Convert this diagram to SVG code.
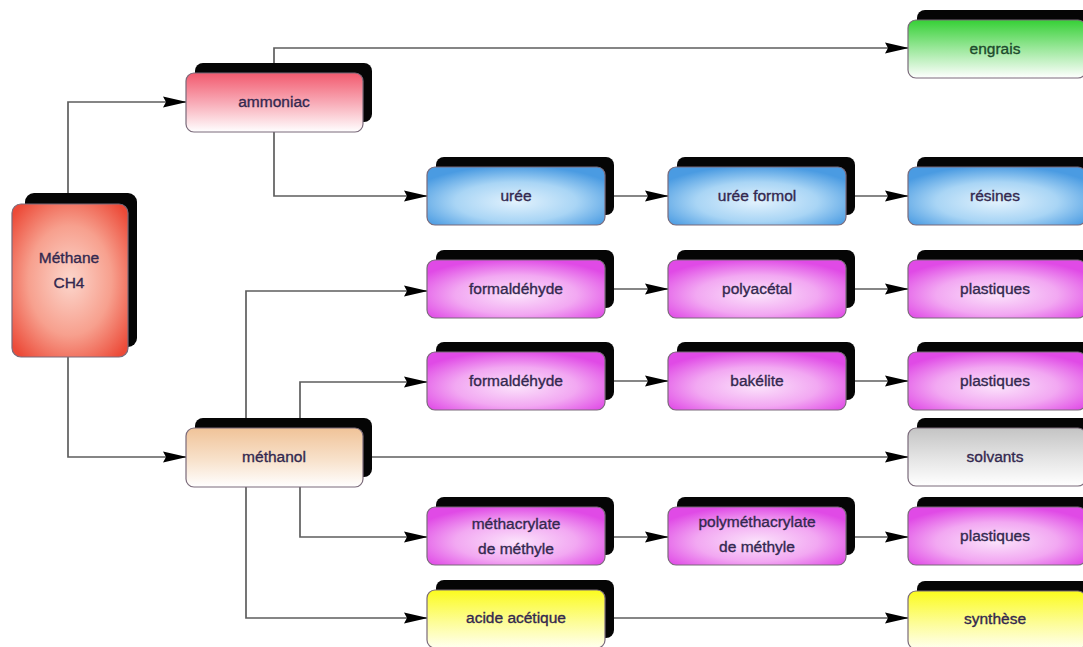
<svg xmlns="http://www.w3.org/2000/svg" width="1083" height="647" viewBox="0 0 1083 647">
<defs>
<style>
.sh{fill:#050505}
.fr{stroke:#7a6a7a;stroke-width:1.2}
.t{font-family:"Liberation Sans",Arial,sans-serif;font-size:15.5px;fill:#33284f;stroke:#33284f;stroke-width:0.35;text-anchor:middle}
.c{fill:none;stroke:#5e5e5e;stroke-width:1.7}
</style>
<marker id="ar" markerUnits="userSpaceOnUse" markerWidth="24" markerHeight="12" refX="23" refY="6" orient="auto">
<path d="M0,0.5 L24,6 L0,11.5 L3,6 z" fill="#000"/>
</marker>
<radialGradient id="gRed" cx="50%" cy="50%" r="65%">
<stop offset="0" stop-color="#fcd6cc"/><stop offset="0.55" stop-color="#f7a08e"/><stop offset="1" stop-color="#ec4a38"/>
</radialGradient>
<radialGradient id="gBlue" cx="50%" cy="60%" r="62%">
<stop offset="0" stop-color="#e2f2fd"/><stop offset="0.55" stop-color="#a9d5f5"/><stop offset="1" stop-color="#4a9be2"/>
</radialGradient>
<radialGradient id="gMag" cx="50%" cy="60%" r="62%">
<stop offset="0" stop-color="#fbe2fb"/><stop offset="0.55" stop-color="#f2a8f2"/><stop offset="1" stop-color="#e04ae6"/>
</radialGradient>
<linearGradient id="gPink" x1="0" y1="0" x2="0" y2="1">
<stop offset="0" stop-color="#f25a6e"/><stop offset="0.5" stop-color="#f8aab6"/><stop offset="1" stop-color="#ffffff"/>
</linearGradient>
<linearGradient id="gTan" x1="0" y1="0" x2="0" y2="1">
<stop offset="0" stop-color="#f0c398"/><stop offset="0.55" stop-color="#f8e2cc"/><stop offset="1" stop-color="#ffffff"/>
</linearGradient>
<linearGradient id="gGreen" x1="0" y1="0" x2="0" y2="1">
<stop offset="0" stop-color="#36d036"/><stop offset="0.5" stop-color="#9ce89c"/><stop offset="1" stop-color="#ffffff"/>
</linearGradient>
<linearGradient id="gGray" x1="0" y1="0" x2="0" y2="1">
<stop offset="0" stop-color="#c4c4c4"/><stop offset="0.55" stop-color="#e6e6e6"/><stop offset="1" stop-color="#ffffff"/>
</linearGradient>
<linearGradient id="gYel" x1="0" y1="0" x2="0" y2="1">
<stop offset="0" stop-color="#fbfb1e"/><stop offset="0.55" stop-color="#fdfd96"/><stop offset="1" stop-color="#ffffef"/>
</linearGradient>
</defs>
<rect width="1083" height="647" fill="#ffffff"/>

<g id="connectors">
<path class="c" d="M68,204 V102 H186" marker-end="url(#ar)"/>
<path class="c" d="M68,357 V457 H186" marker-end="url(#ar)"/>
<path class="c" d="M274,100 V48 H908" marker-end="url(#ar)"/>
<path class="c" d="M274,100 V196 H427" marker-end="url(#ar)"/>
<path class="c" d="M605,196 H668" marker-end="url(#ar)"/>
<path class="c" d="M846,196 H908" marker-end="url(#ar)"/>
<path class="c" d="M246,457 V291 H427" marker-end="url(#ar)"/>
<path class="c" d="M605,289 H668" marker-end="url(#ar)"/>
<path class="c" d="M846,289 H908" marker-end="url(#ar)"/>
<path class="c" d="M300,457 V382 H427" marker-end="url(#ar)"/>
<path class="c" d="M605,381 H668" marker-end="url(#ar)"/>
<path class="c" d="M846,381 H908" marker-end="url(#ar)"/>
<path class="c" d="M363,457 H908" marker-end="url(#ar)"/>
<path class="c" d="M300,457 V537 H427" marker-end="url(#ar)"/>
<path class="c" d="M605,537 H668" marker-end="url(#ar)"/>
<path class="c" d="M846,537 H908" marker-end="url(#ar)"/>
<path class="c" d="M246,457 V618 H427" marker-end="url(#ar)"/>
<path class="c" d="M605,618 H908" marker-end="url(#ar)"/>
</g>

<g id="methane">
<rect class="sh" x="25" y="193" width="112" height="154" rx="9" fill="#1a0000"/>
<rect class="fr" x="12" y="204" width="116" height="153" rx="9" fill="url(#gRed)" stroke="#8a2a20"/>
<text class="t" x="69" y="263">Méthane</text>
<text class="t" x="69" y="288">CH4</text>
</g>

<g id="ammoniac">
<rect class="sh" x="195" y="63" width="177" height="59" rx="8"/>
<rect class="fr" x="186" y="73" width="177" height="59" rx="8" fill="url(#gPink)"/>
<text class="t" x="274" y="107">ammoniac</text>
</g>

<g id="engrais">
<rect class="sh" x="917" y="10" width="178" height="58" rx="8"/>
<rect class="fr" x="908" y="20" width="178" height="58" rx="8" fill="url(#gGreen)" stroke="#a0c0a0"/>
<text class="t" x="995" y="54" style="fill:#1d4a2c;stroke:#1d4a2c">engrais</text>
</g>

<g id="uree">
<rect class="sh" x="436" y="157" width="178" height="58" rx="8"/>
<rect class="fr" x="427" y="167" width="178" height="58" rx="8" fill="url(#gBlue)"/>
<text class="t" x="516" y="201">urée</text>
</g>
<g id="uree-formol">
<rect class="sh" x="677" y="157" width="178" height="58" rx="8"/>
<rect class="fr" x="668" y="167" width="178" height="58" rx="8" fill="url(#gBlue)"/>
<text class="t" x="757" y="201">urée formol</text>
</g>
<g id="resines">
<rect class="sh" x="917" y="157" width="178" height="58" rx="8"/>
<rect class="fr" x="908" y="167" width="178" height="58" rx="8" fill="url(#gBlue)"/>
<text class="t" x="995" y="201">résines</text>
</g>

<g id="formaldehyde1">
<rect class="sh" x="436" y="250" width="178" height="58" rx="8"/>
<rect class="fr" x="427" y="260" width="178" height="58" rx="8" fill="url(#gMag)"/>
<text class="t" x="516" y="294">formaldéhyde</text>
</g>
<g id="polyacetal">
<rect class="sh" x="677" y="250" width="178" height="58" rx="8"/>
<rect class="fr" x="668" y="260" width="178" height="58" rx="8" fill="url(#gMag)"/>
<text class="t" x="757" y="294">polyacétal</text>
</g>
<g id="plastiques1">
<rect class="sh" x="917" y="250" width="178" height="58" rx="8"/>
<rect class="fr" x="908" y="260" width="178" height="58" rx="8" fill="url(#gMag)"/>
<text class="t" x="995" y="294">plastiques</text>
</g>

<g id="formaldehyde2">
<rect class="sh" x="436" y="342" width="178" height="58" rx="8"/>
<rect class="fr" x="427" y="352" width="178" height="58" rx="8" fill="url(#gMag)"/>
<text class="t" x="516" y="386">formaldéhyde</text>
</g>
<g id="bakelite">
<rect class="sh" x="677" y="342" width="178" height="58" rx="8"/>
<rect class="fr" x="668" y="352" width="178" height="58" rx="8" fill="url(#gMag)"/>
<text class="t" x="757" y="386">bakélite</text>
</g>
<g id="plastiques2">
<rect class="sh" x="917" y="342" width="178" height="58" rx="8"/>
<rect class="fr" x="908" y="352" width="178" height="58" rx="8" fill="url(#gMag)"/>
<text class="t" x="995" y="386">plastiques</text>
</g>

<g id="methanol">
<rect class="sh" x="195" y="418" width="177" height="59" rx="8"/>
<rect class="fr" x="186" y="428" width="177" height="59" rx="8" fill="url(#gTan)"/>
<text class="t" x="274" y="462">méthanol</text>
</g>
<g id="solvants">
<rect class="sh" x="917" y="418" width="178" height="58" rx="8"/>
<rect class="fr" x="908" y="428" width="178" height="58" rx="8" fill="url(#gGray)"/>
<text class="t" x="995" y="462">solvants</text>
</g>

<g id="methacrylate">
<rect class="sh" x="436" y="497" width="178" height="58" rx="8"/>
<rect class="fr" x="427" y="507" width="178" height="58" rx="8" fill="url(#gMag)"/>
<text class="t" x="516" y="529">méthacrylate</text>
<text class="t" x="516" y="554">de méthyle</text>
</g>
<g id="polymethacrylate">
<rect class="sh" x="677" y="497" width="178" height="58" rx="8"/>
<rect class="fr" x="668" y="507" width="178" height="58" rx="8" fill="url(#gMag)"/>
<text class="t" x="757" y="527">polyméthacrylate</text>
<text class="t" x="757" y="552">de méthyle</text>
</g>
<g id="plastiques3">
<rect class="sh" x="917" y="497" width="178" height="58" rx="8"/>
<rect class="fr" x="908" y="507" width="178" height="58" rx="8" fill="url(#gMag)"/>
<text class="t" x="995" y="541">plastiques</text>
</g>

<g id="acide-acetique">
<rect class="sh" x="436" y="580" width="178" height="58" rx="8"/>
<rect class="fr" x="427" y="590" width="178" height="58" rx="8" fill="url(#gYel)"/>
<text class="t" x="516" y="623">acide acétique</text>
</g>
<g id="synthese">
<rect class="sh" x="917" y="581" width="178" height="58" rx="8"/>
<rect class="fr" x="908" y="591" width="178" height="58" rx="8" fill="url(#gYel)"/>
<text class="t" x="995" y="624">synthèse</text>
</g>
</svg>
